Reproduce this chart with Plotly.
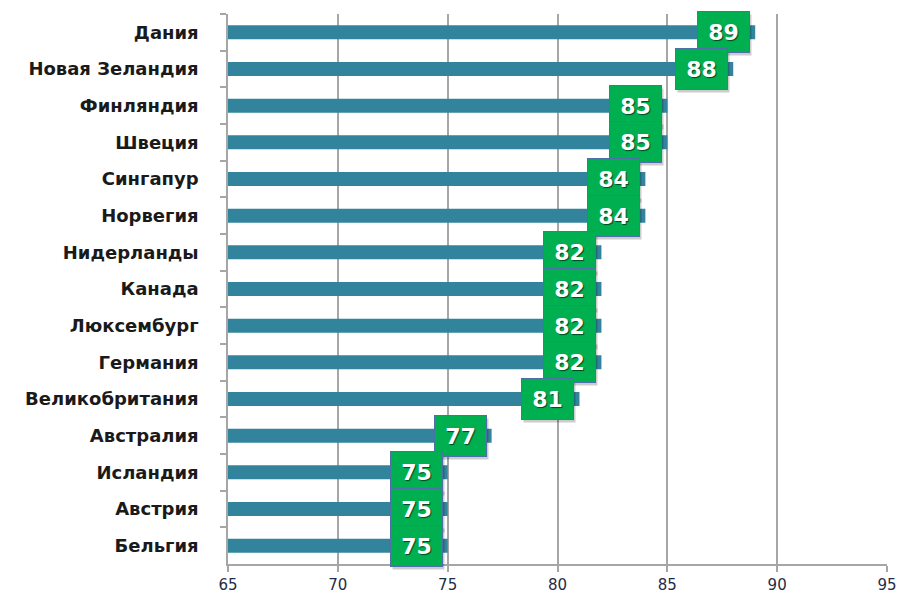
import plotly.graph_objects as go

countries = ["Дания", "Новая Зеландия", "Финляндия", "Швеция", "Сингапур",
             "Норвегия", "Нидерланды", "Канада", "Люксембург", "Германия",
             "Великобритания", "Австралия", "Исландия", "Австрия", "Бельгия"]
scores = [89, 88, 85, 85, 84, 84, 82, 82, 82, 82, 81, 77, 75, 75, 75]
x_ticks = [65, 70, 75, 80, 85, 90, 95]

BAR = "#31849B"
GREEN = "#00B050"
GRID = "#A6A6A6"

fig = go.Figure(go.Bar(
    x=scores, y=countries, orientation="h", base=0,
    marker=dict(color=BAR, line=dict(width=0)),
    width=0.38, hoverinfo="skip",
))

annotations = []
# soft drop shadow behind each value badge
for c, v in zip(countries, scores):
    annotations.append(dict(
        x=v, y=c, xref="x", yref="y", text=str(v), showarrow=False,
        xanchor="right", yanchor="middle", xshift=-3, yshift=-3,
        width=47, height=36, borderpad=2, borderwidth=1,
        bgcolor="rgba(0,0,0,0.2)", bordercolor="rgba(0,0,0,0)",
        font=dict(family="DejaVu Sans", size=22, color="rgba(0,0,0,0)"),
    ))
# value badges
for c, v in zip(countries, scores):
    annotations.append(dict(
        x=v, y=c, xref="x", yref="y", text="<b>%d</b>" % v, showarrow=False,
        xanchor="right", yanchor="middle", xshift=-5,
        width=47, height=36, borderpad=2, borderwidth=1,
        bgcolor=GREEN, bordercolor="#4F6FA8",
        font=dict(family="DejaVu Sans", size=22, color="white",
                  shadow="1px 1px 1px rgba(0,0,0,0.6)"),
    ))

fig.update_layout(
    width=899, height=598,
    margin=dict(l=228, r=12, t=14, b=34),
    paper_bgcolor="white", plot_bgcolor="white",
    showlegend=False,
    annotations=annotations,
    xaxis=dict(
        range=[65, 95], tickvals=x_ticks, ticktext=[str(t) for t in x_ticks],
        showgrid=True, gridcolor=GRID, gridwidth=1.5,
        showline=True, linecolor=GRID, linewidth=1.5,
        ticks="outside", ticklen=6, tickcolor=GRID, tickwidth=1.5,
        tickfont=dict(family="DejaVu Sans", size=15, color="#1F2D44"),
        zeroline=False, fixedrange=True, automargin=False,
    ),
    yaxis=dict(
        categoryorder="array", categoryarray=countries,
        range=[len(countries) - 0.5, -0.5],
        showline=True, linecolor=GRID, linewidth=1.5,
        ticks="outside", ticklen=6, tickcolor=GRID, tickwidth=1.5,
        tickson="boundaries", ticklabelstandoff=24,
        tickfont=dict(family="DejaVu Sans", size=18, color="#1A1A1A", weight="bold"),
        showgrid=False, fixedrange=True, automargin=False,
    ),
)

fig.write_html("out.html")
